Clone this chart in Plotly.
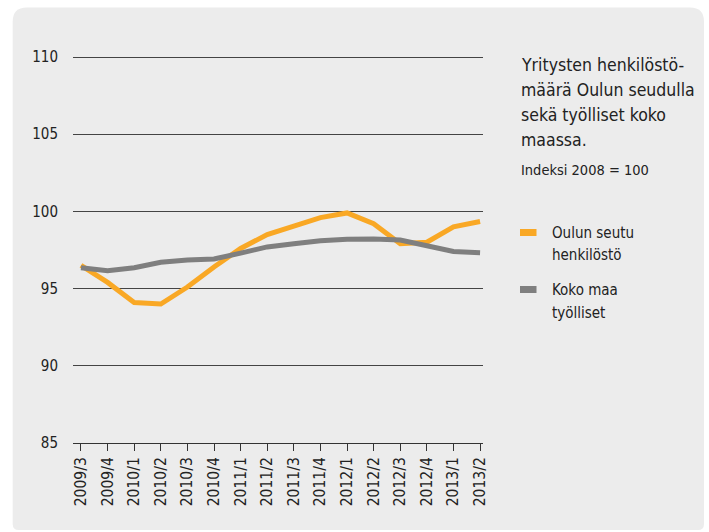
import plotly.graph_objects as go

categories = ["2009/3", "2009/4", "2010/1", "2010/2", "2010/3", "2010/4", "2011/1", "2011/2",
              "2011/3", "2011/4", "2012/1", "2012/2", "2012/3", "2012/4", "2013/1", "2013/2"]
oulu = [96.5, 95.4, 94.1, 94.0, 95.1, 96.4, 97.6, 98.5, 99.05, 99.6, 99.9, 99.2, 97.9, 98.0, 99.0, 99.35]
koko = [96.35, 96.15, 96.35, 96.7, 96.85, 96.92, 97.3, 97.7, 97.9, 98.1, 98.2, 98.22, 98.15, 97.8, 97.4, 97.32]
yticks = [85, 90, 95, 100, 105, 110]

title_lines = ["Yritysten henkilöstö-", "määrä Oulun seudulla", "sekä työlliset koko", "maassa."]
subtitle = "Indeksi 2008 = 100"
legend_names = [["Oulun seutu", "henkilöstö"], ["Koko maa", "työlliset"]]

ORANGE = "#f9a825"
GRAY = "#7f7f7f"
FONT = "Liberation Sans Narrow, DejaVu Sans Condensed, sans-serif"
TXT = "#222222"

W, H = 709, 532
L, R, T, B = 73, 226, 55, 89
PW, PH = W - L - R, H - T - B
YTOP = 85 + 25 * PH / 386.0

def px(x):
    return (x - L) / PW

def py(y):
    return (H - B - y) / PH

fig = go.Figure()
xs = list(range(len(categories)))
fig.add_trace(go.Scatter(x=xs, y=oulu, mode="lines", line=dict(color=ORANGE, width=5),
                         name="Oulun seutu henkilöstö", showlegend=False))
fig.add_trace(go.Scatter(x=xs, y=koko, mode="lines", line=dict(color=GRAY, width=5),
                         name="Koko maa työlliset", showlegend=False))

# rounded background panel
x0, x1, y0, y1 = 12.7, 704, 7.5, 530
rt, rb = 14, 6
path = (f"M {px(x0)} {py(y0 + rt)} "
        f"Q {px(x0)} {py(y0)} {px(x0 + rt)} {py(y0)} "
        f"L {px(x1 - rt)} {py(y0)} "
        f"Q {px(x1)} {py(y0)} {px(x1)} {py(y0 + rt)} "
        f"L {px(x1)} {py(y1 - rb)} "
        f"Q {px(x1)} {py(y1)} {px(x1 - rb)} {py(y1)} "
        f"L {px(x0 + rb)} {py(y1)} "
        f"Q {px(x0)} {py(y1)} {px(x0)} {py(y1 - rb)} Z")
shapes = [dict(type="path", path=path, xref="paper", yref="paper",
               fillcolor="#ececec", line=dict(width=0), layer="below")]

annotations = []
for i, line in enumerate(title_lines):
    annotations.append(dict(text=line, x=px(519), y=py(64.5 + 25 * i), xref="paper", yref="paper",
                            xanchor="left", yanchor="middle", showarrow=False,
                            font=dict(family=FONT, size=17.5, color=TXT)))
annotations.append(dict(text=subtitle, x=px(519), y=py(170), xref="paper", yref="paper",
                        xanchor="left", yanchor="middle", showarrow=False,
                        font=dict(family=FONT, size=14.5, color=TXT)))
for (names, color, yc) in [(legend_names[0], ORANGE, 232.5), (legend_names[1], GRAY, 289.5)]:
    shapes.append(dict(type="rect", xref="paper", yref="paper",
                       x0=px(520), x1=px(536.5), y0=py(yc - 3.5), y1=py(yc + 3.5),
                       fillcolor=color, line=dict(width=0)))
    for j, nm in enumerate(names):
        annotations.append(dict(text=nm, x=px(550), y=py(yc + 23 * j), xref="paper", yref="paper",
                                xanchor="left", yanchor="middle", showarrow=False,
                                font=dict(family=FONT, size=15, color=TXT)))

fig.update_layout(
    width=W, height=H,
    margin=dict(l=L, r=R, t=T, b=B),
    paper_bgcolor="white", plot_bgcolor="rgba(0,0,0,0)",
    shapes=shapes, annotations=annotations,
    showlegend=False,
    xaxis=dict(range=[-0.3, 15.11], tickmode="array", tickvals=xs, ticktext=categories,
               tickangle=-90, ticks="outside", ticklen=7, tickcolor="#333", tickwidth=1,
               showgrid=False, zeroline=False, showline=True, linecolor="#333", linewidth=1,
               tickfont=dict(family=FONT, size=15.5, color=TXT)),
    yaxis=dict(range=[85, YTOP], tickvals=yticks, showgrid=True, gridcolor="#444", gridwidth=1,
               zeroline=False, showline=False, ticks="", ticklabelstandoff=14,
               tickfont=dict(family=FONT, size=15, color=TXT)),
)
fig.write_html("out.html", config={"displayModeBar": False},
               post_script="document.body.style.margin='0';document.body.style.overflow='hidden';")
